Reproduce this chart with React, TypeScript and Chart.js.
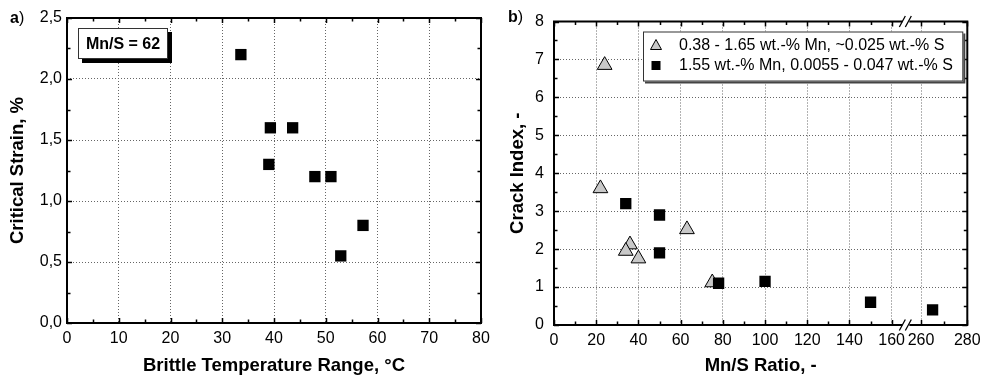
import React, { useEffect, useRef } from 'react';
import { Chart, registerables, LinearScale } from 'chart.js';

const FONT = "'Liberation Sans', Arial, Helvetica, sans-serif";

// ---------------- Panel a) ----------------
const aTemperature = [33.6, 39.3, 43.6, 39.0, 47.9, 51.0, 57.2, 52.9];
const aStrain = [2.2, 1.6, 1.6, 1.3, 1.2, 1.2, 0.8, 0.55];
const aXMajor = [0, 10, 20, 30, 40, 50, 60, 70, 80];
const aXMinor = [5, 15, 25, 35, 45, 55, 65, 75];
const aYMajor = [0, 0.5, 1.0, 1.5, 2.0, 2.5];
const aYMinor = [0.25, 0.75, 1.25, 1.75, 2.25];
const aAnnotation = 'Mn/S = 62';
const aXTitle = 'Brittle Temperature Range, °C';
const aYTitle = 'Critical Strain, %';

// ---------------- Panel b) ----------------
const bTriMnS = [24, 22, 36, 34, 40, 63, 75];
const bTriCrack = [6.85, 3.6, 2.12, 1.95, 1.75, 2.52, 1.12];
const bSqMnS = [34, 50, 50, 78, 100, 150, 265];
const bSqCrack = [3.2, 2.9, 1.9, 1.1, 1.15, 0.6, 0.4];
const bXMajor = [0, 20, 40, 60, 80, 100, 120, 140, 160, 260, 280];
const bXMinor = [10, 30, 50, 70, 90, 110, 130, 150, 270];
const bYMajor = [0, 1, 2, 3, 4, 5, 6, 7, 8];
const bYMinor = [0.5, 1.5, 2.5, 3.5, 4.5, 5.5, 6.5, 7.5];
const bTriLabel = '0.38 - 1.65 wt.-% Mn, ~0.025 wt.-% S';
const bSqLabel = '1.55 wt.-% Mn, 0.0055 - 0.047 wt.-% S';
const bXTitle = 'Mn/S Ratio, -';
const bYTitle = 'Crack Index, -';
const bBreakLo = 160;
const bBreakHi = 260;
const bBreakMid = 210;

// Broken x axis: fraction of axis length where the break boundaries sit
const FRAC_LO = 0.817;
const FRAC_HI = 0.888;

class BrokenLinearScale extends LinearScale {
  getPixelForValue(value: number) {
    if (value === null || value === undefined || isNaN(value)) return NaN;
    const min = this.min as number;
    const max = this.max as number;
    let f: number;
    if (value <= bBreakLo) f = ((value - min) / (bBreakLo - min)) * FRAC_LO;
    else if (value >= bBreakHi) f = FRAC_HI + ((value - bBreakHi) / (max - bBreakHi)) * (1 - FRAC_HI);
    else f = FRAC_LO + ((value - bBreakLo) / (bBreakHi - bBreakLo)) * (FRAC_HI - FRAC_LO);
    return this.getPixelForDecimal(f);
  }
  getValueForPixel(pixel: number) {
    const f = this.getDecimalForPixel(pixel);
    const min = this.min as number;
    const max = this.max as number;
    if (f <= FRAC_LO) return min + (f / FRAC_LO) * (bBreakLo - min);
    if (f >= FRAC_HI) return bBreakHi + ((f - FRAC_HI) / (1 - FRAC_HI)) * (max - bBreakHi);
    return bBreakLo + ((f - FRAC_LO) / (FRAC_HI - FRAC_LO)) * (bBreakHi - bBreakLo);
  }
}
(BrokenLinearScale as any).id = 'brokenLinear';
(BrokenLinearScale as any).defaults = (LinearScale as any).defaults;

Chart.register(...registerables, BrokenLinearScale as any);

type FrameCfg = {
  xMajor: number[];
  xMinor: number[];
  yMajor: number[];
  yMinor: number[];
  breakAt?: number;
};

function drawFrame(chart: any, cfg: FrameCfg) {
  const { ctx, chartArea: a, scales } = chart;
  const xs = scales.x;
  const ys = scales.y;
  ctx.save();
  ctx.strokeStyle = '#000';
  ctx.lineWidth = 1.5;
  ctx.beginPath();
  const tickX = (vals: number[], len: number) => {
    for (const v of vals) {
      const p = Math.round(xs.getPixelForValue(v)) + 0.5;
      ctx.moveTo(p, a.bottom);
      ctx.lineTo(p, a.bottom - len);
      ctx.moveTo(p, a.top);
      ctx.lineTo(p, a.top + len);
    }
  };
  const tickY = (vals: number[], len: number) => {
    for (const v of vals) {
      const p = Math.round(ys.getPixelForValue(v)) + 0.5;
      ctx.moveTo(a.left, p);
      ctx.lineTo(a.left + len, p);
      ctx.moveTo(a.right, p);
      ctx.lineTo(a.right - len, p);
    }
  };
  tickX(cfg.xMajor, 5);
  tickX(cfg.xMinor, 3.5);
  tickY(cfg.yMajor, 5);
  tickY(cfg.yMinor, 3.5);
  ctx.stroke();
  ctx.lineWidth = 2;
  ctx.strokeRect(a.left, a.top, a.right - a.left, a.bottom - a.top);
  if (cfg.breakAt !== undefined) {
    const p = xs.getPixelForValue(cfg.breakAt);
    for (const y of [a.top, a.bottom]) {
      ctx.fillStyle = '#fff';
      ctx.fillRect(p - 4, y - 2, 7, 4);
      ctx.beginPath();
      ctx.lineWidth = 1.3;
      ctx.moveTo(p - 7, y + 5.5);
      ctx.lineTo(p - 1, y - 5.5);
      ctx.moveTo(p - 1, y + 5.5);
      ctx.lineTo(p + 5, y - 5.5);
      ctx.stroke();
    }
  }
  ctx.restore();
}

function drawPanelLabel(ctx: CanvasRenderingContext2D, letter: string, x: number, y: number) {
  ctx.save();
  ctx.fillStyle = '#000';
  ctx.textBaseline = 'alphabetic';
  ctx.textAlign = 'left';
  ctx.font = `bold 16px ${FONT}`;
  ctx.fillText(letter, x, y);
  const w = ctx.measureText(letter).width;
  ctx.font = `16px ${FONT}`;
  ctx.fillText(')', x + w, y);
  ctx.restore();
}

const titleFont = { family: FONT, size: 18.5, weight: 'bold' as const, lineHeight: 1.2 };
const tickFont = { family: FONT, size: 16 };

export default function App() {
  const leftRef = useRef<HTMLCanvasElement>(null);
  const rightRef = useRef<HTMLCanvasElement>(null);

  useEffect(() => {
    const frameA = {
      id: 'frameA',
      afterDraw(chart: any) {
        drawFrame(chart, { xMajor: aXMajor, xMinor: aXMinor, yMajor: aYMajor, yMinor: aYMinor });
        const { ctx, chartArea: a } = chart;
        // annotation box
        const bx = a.left + 11;
        const by = a.top + 10;
        const bw = 90;
        const bh = 31;
        ctx.save();
        ctx.fillStyle = '#000';
        ctx.fillRect(bx + 4, by + 4, bw, bh);
        ctx.fillStyle = '#fff';
        ctx.fillRect(bx, by, bw, bh);
        ctx.strokeStyle = '#333';
        ctx.lineWidth = 1;
        ctx.strokeRect(bx + 0.5, by + 0.5, bw - 1, bh - 1);
        ctx.fillStyle = '#000';
        ctx.font = `bold 16px ${FONT}`;
        ctx.textAlign = 'center';
        ctx.textBaseline = 'middle';
        ctx.fillText(aAnnotation, bx + bw / 2, by + bh / 2 + 1);
        ctx.restore();
        drawPanelLabel(ctx, 'a', 10, 23);
      },
    };

    const frameB = {
      id: 'frameB',
      afterDraw(chart: any) {
        drawFrame(chart, { xMajor: bXMajor, xMinor: bXMinor, yMajor: bYMajor, yMinor: bYMinor, breakAt: bBreakMid });
        const { ctx, chartArea: a } = chart;
        // legend box
        const lx = a.left + 89;
        const ly = a.top + 10;
        const lw = a.right - 4 - lx;
        const lh = 50;
        ctx.save();
        ctx.fillStyle = '#444';
        ctx.fillRect(lx + 2, ly + 2, lw, lh);
        ctx.fillStyle = '#fff';
        ctx.fillRect(lx, ly, lw, lh);
        ctx.strokeStyle = '#333';
        ctx.lineWidth = 1;
        ctx.strokeRect(lx + 0.5, ly + 0.5, lw - 1, lh - 1);
        const r1 = ly + 14;
        const r2 = ly + 34;
        // triangle symbol
        const sx = lx + 13;
        ctx.beginPath();
        ctx.moveTo(sx, r1 - 6);
        ctx.lineTo(sx + 5.5, r1 + 4);
        ctx.lineTo(sx - 5.5, r1 + 4);
        ctx.closePath();
        ctx.fillStyle = '#c8c8c8';
        ctx.fill();
        ctx.strokeStyle = '#000';
        ctx.stroke();
        ctx.fillStyle = '#000';
        ctx.fillRect(sx - 4.5, r2 - 4.5, 9, 9);
        ctx.font = `16px ${FONT}`;
        ctx.textAlign = 'left';
        ctx.textBaseline = 'middle';
        ctx.fillText(bTriLabel, lx + 36, r1);
        ctx.fillText(bSqLabel, lx + 36, r2);
        ctx.restore();
        drawPanelLabel(ctx, 'b', 18, 22);
      },
    };

    const gridCommon = { color: '#666', lineWidth: 1, drawTicks: false };
    const borderCommon = { display: false, dash: [1, 2] };

    const chartA = new Chart(leftRef.current as HTMLCanvasElement, {
      type: 'scatter',
      data: {
        datasets: [
          {
            label: aAnnotation,
            data: aTemperature.map((t, i) => ({ x: t, y: aStrain[i] })),
            pointStyle: 'rect',
            pointRadius: 8,
            pointBackgroundColor: '#000',
            pointBorderWidth: 0,
          },
        ],
      },
      options: {
        responsive: false,
        animation: false,
        events: [],
        layout: { padding: { left: 0, right: 9, top: 18, bottom: 0 } },
        plugins: { legend: { display: false }, tooltip: { enabled: false } },
        scales: {
          x: {
            type: 'linear',
            min: 0,
            max: 80,
            ticks: { stepSize: 10, color: '#000', font: tickFont, padding: 6, maxRotation: 0, autoSkip: false },
            grid: gridCommon,
            border: borderCommon,
            title: { display: true, text: aXTitle, color: '#000', font: titleFont, padding: { top: 0, bottom: 5.9 } },
            afterFit: (s: any) => {
              s.height = 60;
              s.paddingLeft = 0;
              s.paddingRight = 0;
            },
          },
          y: {
            type: 'linear',
            min: 0,
            max: 2.5,
            ticks: {
              stepSize: 0.5,
              color: '#000',
              font: tickFont,
              padding: 5,
              callback: (v: any) => Number(v).toFixed(1).replace('.', ','),
            },
            grid: gridCommon,
            border: borderCommon,
            title: { display: true, text: aYTitle, color: '#000', font: titleFont, padding: { top: 6.4, bottom: 0 } },
            afterFit: (s: any) => {
              s.width = 67;
              s.paddingTop = 0;
              s.paddingBottom = 0;
            },
          },
        },
      } as any,
      plugins: [frameA],
    });

    const chartB = new Chart(rightRef.current as HTMLCanvasElement, {
      type: 'scatter',
      data: {
        datasets: [
          {
            label: bSqLabel,
            data: bSqMnS.map((m, i) => ({ x: m, y: bSqCrack[i] })),
            pointStyle: 'rect',
            pointRadius: 8,
            pointBackgroundColor: '#000',
            pointBorderWidth: 0,
          },
          {
            label: bTriLabel,
            data: bTriMnS.map((m, i) => ({ x: m, y: bTriCrack[i] })),
            pointStyle: 'triangle',
            pointRadius: 8.5,
            pointBackgroundColor: '#c8c8c8',
            pointBorderColor: '#000',
            pointBorderWidth: 1,
          },
        ],
      },
      options: {
        responsive: false,
        animation: false,
        events: [],
        layout: { padding: { left: 0, right: 16.7, top: 21.5, bottom: 0 } },
        plugins: { legend: { display: false }, tooltip: { enabled: false } },
        scales: {
          x: {
            type: 'brokenLinear',
            min: 0,
            max: 280,
            afterBuildTicks: (s: any) => {
              s.ticks = bXMajor.map((v) => ({ value: v }));
            },
            ticks: { color: '#000', font: tickFont, padding: 6, maxRotation: 0, autoSkip: false, callback: (v: any) => String(v) },
            grid: gridCommon,
            border: borderCommon,
            title: { display: true, text: bXTitle, color: '#000', font: titleFont, padding: { top: 0, bottom: 5.9 } },
            afterFit: (s: any) => {
              s.height = 58;
              s.paddingLeft = 0;
              s.paddingRight = 0;
            },
          },
          y: {
            type: 'linear',
            min: 0,
            max: 8,
            ticks: { stepSize: 1, color: '#000', font: tickFont, padding: 10 },
            grid: gridCommon,
            border: borderCommon,
            title: { display: true, text: bYTitle, color: '#000', font: titleFont, padding: { top: 16.9, bottom: 0 } },
            afterFit: (s: any) => {
              s.width = 64;
              s.paddingTop = 0;
              s.paddingBottom = 0;
            },
          },
        },
      } as any,
      plugins: [frameB],
    });

    return () => {
      chartA.destroy();
      chartB.destroy();
    };
  }, []);

  return (
    <div style={{ position: 'fixed', left: 0, top: 0, width: 984, height: 383, background: '#fff' }}>
      <canvas ref={leftRef} width={490} height={383} style={{ position: 'absolute', left: 0, top: 0 }} />
      <canvas ref={rightRef} width={494} height={383} style={{ position: 'absolute', left: 490, top: 0 }} />
    </div>
  );
}
